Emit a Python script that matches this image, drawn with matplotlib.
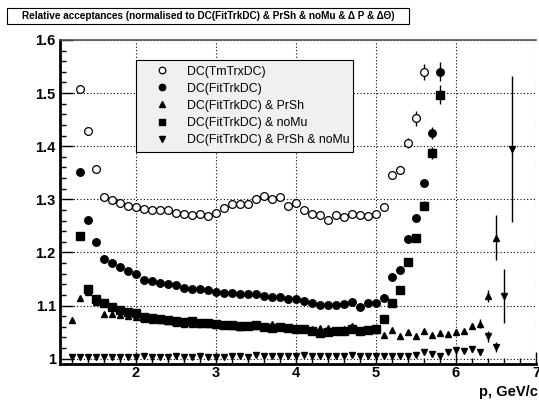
import numpy as np
import matplotlib.pyplot as plt
from matplotlib.lines import Line2D
from matplotlib.patches import Rectangle
from matplotlib.ticker import MultipleLocator, FixedLocator

plt.rcParams['font.family'] = ['Liberation Sans', 'DejaVu Sans']

nan = np.nan

# momentum bins, GeV/c
p = [1.2, 1.3, 1.4, 1.5, 1.6, 1.7, 1.8, 1.9, 2.0, 2.1,
     2.2, 2.3, 2.4, 2.5, 2.6, 2.7, 2.8, 2.9, 3.0, 3.1,
     3.2, 3.3, 3.4, 3.5, 3.6, 3.7, 3.8, 3.9, 4.0, 4.1,
     4.2, 4.3, 4.4, 4.5, 4.6, 4.7, 4.8, 4.9, 5.0, 5.1,
     5.2, 5.3, 5.4, 5.5, 5.6, 5.7, 5.8, 5.9, 6.0, 6.1,
     6.2, 6.3, 6.4, 6.5, 6.6, 6.7]

acc_tm = [nan, 1.508, 1.428, 1.358, 1.305, 1.298, 1.293, 1.288, 1.286, 1.281,
          1.279, 1.279, 1.280, 1.274, 1.272, 1.271, 1.272, 1.268, 1.274, 1.284,
          1.291, 1.291, 1.292, 1.301, 1.306, 1.300, 1.305, 1.288, 1.293, 1.280,
          1.272, 1.271, 1.262, 1.270, 1.267, 1.273, 1.270, 1.268, 1.273, 1.285,
          1.345, 1.356, 1.406, 1.453, 1.539, nan, nan, nan, nan, nan,
          nan, nan, nan, nan, nan, nan]
err_tm = [nan, 0.003, 0.003, 0.003, 0.002, 0.002, 0.002, 0.002, 0.002, 0.002,
          0.002, 0.002, 0.002, 0.002, 0.002, 0.002, 0.002, 0.002, 0.002, 0.002,
          0.002, 0.002, 0.002, 0.002, 0.002, 0.002, 0.002, 0.002, 0.002, 0.002,
          0.002, 0.002, 0.002, 0.002, 0.002, 0.002, 0.002, 0.002, 0.003, 0.004,
          0.005, 0.006, 0.010, 0.014, 0.015, nan, nan, nan, nan, nan,
          nan, nan, nan, nan, nan, nan]

acc_fit = [nan, 1.351, 1.261, 1.219, 1.188, 1.180, 1.173, 1.166, 1.159, 1.149,
           1.146, 1.143, 1.141, 1.139, 1.134, 1.132, 1.131, 1.129, 1.126, 1.124,
           1.124, 1.121, 1.121, 1.121, 1.118, 1.116, 1.117, 1.112, 1.113, 1.109,
           1.105, 1.101, 1.101, 1.101, 1.103, 1.107, 1.098, 1.104, 1.105, 1.115,
           1.154, 1.167, 1.226, 1.265, 1.331, 1.425, 1.540, nan, nan, nan,
           nan, nan, nan, nan, nan, nan]
err_fit = [nan, 0.002, 0.002, 0.002, 0.002, 0.002, 0.002, 0.002, 0.002, 0.002,
           0.002, 0.002, 0.002, 0.002, 0.002, 0.002, 0.002, 0.002, 0.002, 0.002,
           0.002, 0.002, 0.002, 0.002, 0.002, 0.002, 0.002, 0.002, 0.002, 0.002,
           0.002, 0.002, 0.002, 0.002, 0.002, 0.002, 0.002, 0.002, 0.002, 0.003,
           0.004, 0.005, 0.006, 0.006, 0.008, 0.012, 0.018, nan, nan, nan,
           nan, nan, nan, nan, nan, nan]

acc_prsh = [1.073, 1.114, 1.125, 1.106, 1.084, 1.084, 1.082, 1.081, 1.078, 1.075,
            1.073, 1.072, 1.071, 1.068, 1.066, 1.066, 1.066, 1.065, 1.063, 1.063,
            1.062, 1.060, 1.061, 1.062, 1.061, 1.065, 1.060, 1.058, 1.058, 1.057,
            1.055, 1.058, 1.058, 1.053, 1.055, 1.061, 1.053, 1.055, 1.054, 1.044,
            1.054, 1.042, 1.051, 1.043, 1.052, 1.044, 1.049, 1.047, 1.051, 1.052,
            1.062, 1.066, 1.118, 1.228, nan, nan]
err_prsh = [0.002, 0.002, 0.002, 0.002, 0.002, 0.002, 0.002, 0.002, 0.002, 0.002,
            0.002, 0.002, 0.002, 0.002, 0.002, 0.002, 0.002, 0.002, 0.002, 0.002,
            0.002, 0.002, 0.002, 0.002, 0.002, 0.002, 0.002, 0.002, 0.002, 0.002,
            0.002, 0.002, 0.002, 0.002, 0.002, 0.002, 0.002, 0.002, 0.002, 0.002,
            0.002, 0.002, 0.002, 0.002, 0.002, 0.002, 0.003, 0.003, 0.004, 0.004,
            0.006, 0.009, 0.012, 0.043, nan, nan]

acc_nomu = [nan, 1.231, 1.131, 1.112, 1.104, 1.098, 1.092, 1.088, 1.086, 1.078,
            1.076, 1.074, 1.073, 1.071, 1.069, 1.071, 1.068, 1.067, 1.065, 1.064,
            1.064, 1.061, 1.061, 1.063, 1.060, 1.058, 1.059, 1.057, 1.056, 1.056,
            1.053, 1.049, 1.050, 1.052, 1.053, 1.056, 1.052, 1.054, 1.056, 1.074,
            1.105, 1.130, 1.182, 1.228, 1.288, 1.387, 1.497, nan, nan, nan,
            nan, nan, nan, nan, nan, nan]
err_nomu = [nan, 0.002, 0.002, 0.002, 0.002, 0.002, 0.002, 0.002, 0.002, 0.002,
            0.002, 0.002, 0.002, 0.002, 0.002, 0.002, 0.002, 0.002, 0.002, 0.002,
            0.002, 0.002, 0.002, 0.002, 0.002, 0.002, 0.002, 0.002, 0.002, 0.002,
            0.002, 0.002, 0.002, 0.002, 0.002, 0.002, 0.002, 0.002, 0.002, 0.003,
            0.003, 0.004, 0.005, 0.006, 0.008, 0.011, 0.018, nan, nan, nan,
            nan, nan, nan, nan, nan, nan]

acc_all = [1.004, 1.003, 1.003, 1.004, 1.004, 1.004, 1.004, 1.004, 1.004, 1.005,
           1.004, 1.004, 1.004, 1.005, 1.004, 1.004, 1.005, 1.004, 1.004, 1.004,
           1.005, 1.005, 1.004, 1.007, 1.005, 1.005, 1.006, 1.005, 1.005, 1.007,
           1.005, 1.005, 1.005, 1.005, 1.005, 1.007, 1.005, 1.005, 1.005, 1.005,
           1.005, 1.005, 1.006, 1.007, 1.012, 1.009, 1.006, 1.012, 1.016, 1.015,
           1.018, 1.012, 1.042, 1.022, 1.118, 1.395]
err_all = [0.001, 0.001, 0.001, 0.001, 0.001, 0.001, 0.001, 0.001, 0.001, 0.001,
           0.001, 0.001, 0.001, 0.001, 0.001, 0.001, 0.001, 0.001, 0.001, 0.001,
           0.001, 0.001, 0.001, 0.001, 0.001, 0.001, 0.001, 0.001, 0.001, 0.001,
           0.001, 0.001, 0.001, 0.001, 0.001, 0.001, 0.001, 0.001, 0.001, 0.001,
           0.001, 0.001, 0.001, 0.002, 0.002, 0.002, 0.002, 0.003, 0.004, 0.004,
           0.005, 0.005, 0.010, 0.010, 0.050, 0.138]

labels = ['DC(TmTrxDC)', 'DC(FitTrkDC)', 'DC(FitTrkDC) & PrSh',
          'DC(FitTrkDC) & noMu', 'DC(FitTrkDC) & PrSh & noMu']

title = u'Relative acceptances (normalised to DC(FitTrkDC) & PrSh & noMu & \u0394 P & \u0394\u0398)'

series = [
    (acc_tm, err_tm, dict(marker='o', mfc='white', mec='black', ms=5.6, mew=0.9)),
    (acc_fit, err_fit, dict(marker='o', mfc='black', mec='black', ms=5.4)),
    (acc_prsh, err_prsh, dict(marker='^', mfc='black', mec='black', ms=5.0)),
    (acc_nomu, err_nomu, dict(marker='s', mfc='black', mec='black', ms=5.2)),
    (acc_all, err_all, dict(marker='v', mfc='black', mec='black', ms=5.0)),
]

fig = plt.figure(figsize=(5.39, 4.01), dpi=100)
ax = fig.add_axes([60 / 539, 1 - 364 / 401, 476 / 539, 324 / 401])

for y, e, st in series:
    ax.errorbar(p, y, yerr=e, fmt='none', ecolor='black', elinewidth=1.0, capsize=0, zorder=2)
    ax.plot(p, y, ls='none', zorder=3, **st)

ax.set_xlim(1.05, 7.0)
ax.set_ylim(0.99, 1.6)

ax.xaxis.set_major_locator(FixedLocator([2, 3, 4, 5, 6, 7]))
ax.xaxis.set_minor_locator(MultipleLocator(0.2))
ax.yaxis.set_major_locator(FixedLocator([1.0, 1.1, 1.2, 1.3, 1.4, 1.5, 1.6]))
ax.yaxis.set_minor_locator(MultipleLocator(0.02))
ax.set_yticklabels(['1', '1.1', '1.2', '1.3', '1.4', '1.5', '1.6'])

ax.tick_params(which='both', direction='in', top=False, right=False,
               labelsize=10.5, width=1)
ax.tick_params(which='major', length=9)
ax.tick_params(which='minor', length=4.5)
for lab in ax.get_xticklabels() + ax.get_yticklabels():
    lab.set_fontweight('bold')
ax.tick_params(axis='x', pad=1.5)
ax.tick_params(axis='y', pad=3)

ax.grid(True, which='major', color='black', ls=(0, (1, 2)), lw=0.8)
ax.set_axisbelow(True)

ax.spines['left'].set_linewidth(2)
ax.spines['bottom'].set_linewidth(2)
ax.spines['top'].set_linewidth(1.2)
ax.spines['top'].set_color('#555555')
ax.spines['right'].set_visible(False)

fig.text(538 / 539, 1 - 392 / 401, 'p, GeV/c', ha='right', va='center',
         fontsize=10.5, fontweight='bold')

# title box
fig.patches.append(Rectangle((7 / 539, 1 - 24 / 401), 402 / 539, 16 / 401,
                             transform=fig.transFigure, fill=True,
                             facecolor='white', edgecolor='black', lw=0.8))
fig.text(208 / 539, 1 - 16 / 401, title, ha='center', va='center',
         fontsize=7.2, fontweight='bold')

handles = [Line2D([], [], ls='none', **st) for _, _, st in series]
leg = fig.legend(handles, labels, loc='upper left',
                 bbox_to_anchor=(136 / 539, 1 - 60 / 401, 217 / 539, 0.0),
                 mode='expand', fontsize=8.8, frameon=True, fancybox=False,
                 facecolor='#f0f0f0', edgecolor='black', framealpha=1,
                 borderaxespad=0, borderpad=0.45, labelspacing=0.42,
                 handlelength=3.4, handletextpad=0.36, markerscale=0.85)
leg.get_frame().set_linewidth(0.8)

fig.savefig('out.png', dpi=100)
